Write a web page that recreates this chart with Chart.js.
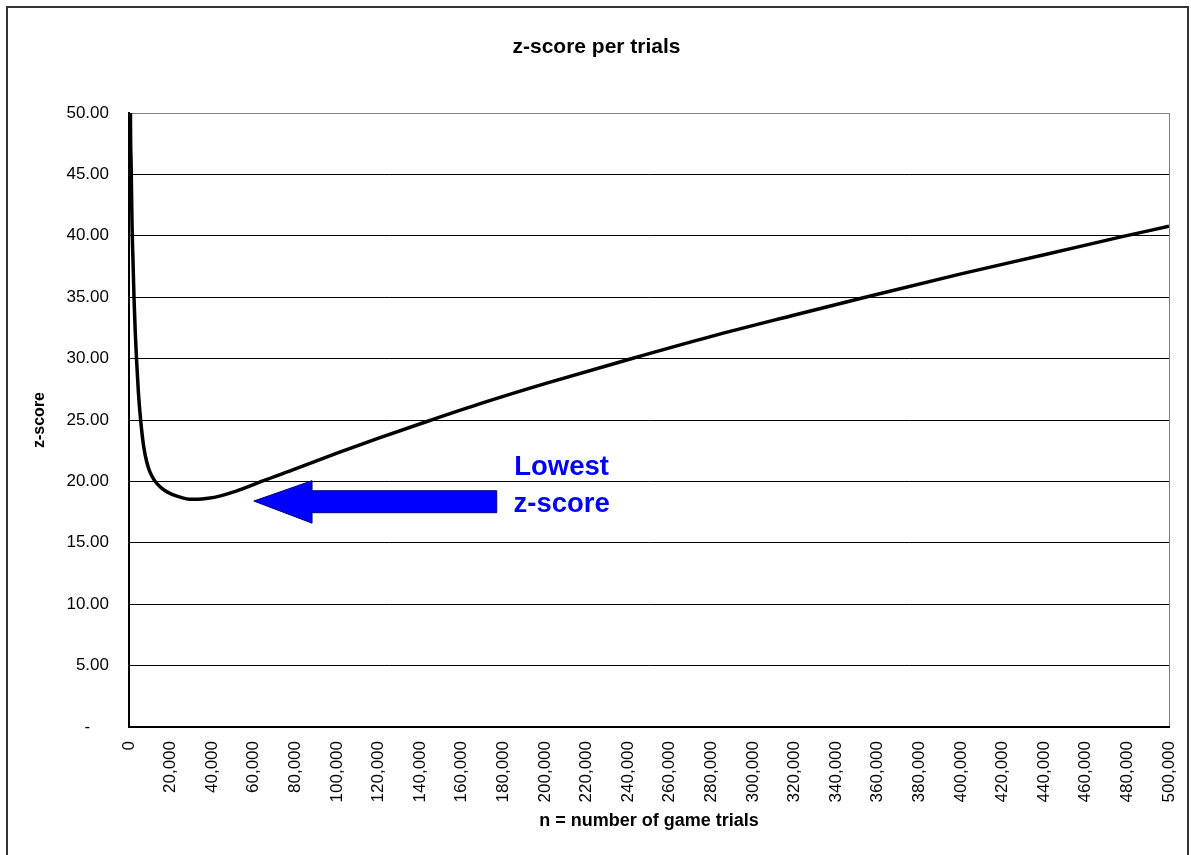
<!DOCTYPE html>
<html>
<head>
<meta charset="utf-8">
<title>z-score per trials</title>
<script src="https://cdn.jsdelivr.net/npm/chart.js@4/dist/chart.umd.min.js"></script>
<style>
  html, body { margin: 0; padding: 0; background: #fff; }
  canvas { display: block; }
</style>
</head>
<body>
<canvas id="chart" width="1191" height="855"></canvas>
<script>
// -------------------------
// Data
// -------------------------
const trialsN = [600, 700, 1000, 1450, 2000, 2400, 3000, 3600, 4500, 5600, 7000, 8500, 10000, 12000, 14000,
  17000, 21000, 25000, 29000, 33000, 38000, 44000, 50000, 58000, 64000, 80000, 100000, 120000, 145000,
  170000, 200000, 241000, 280000, 320000, 353000, 400000, 440000, 478000, 500000];
const zScore = [58, 50, 46, 41, 37.5, 35, 32.2, 30, 27.3, 25, 22.9, 21.6, 20.8, 20.15, 19.72,
  19.28, 18.92, 18.7, 18.55, 18.54, 18.62, 18.82, 19.12, 19.62, 20.02, 21.02, 22.3, 23.52, 24.98,
  26.39, 27.96, 29.97, 31.81, 33.55, 34.96, 36.9, 38.46, 39.95, 40.78];

const yTicks = [0, 5, 10, 15, 20, 25, 30, 35, 40, 45, 50];
const xMax = 500000;
const xStep = 20000;

// annotation: arrow + label, in data units
const arrowTip = { n: 60000, z: 18.4 };
const arrowHeadBack = 88000;
const arrowHeadZ = [20.06, 16.6];
const arrowShaftZ = [19.24, 17.45];
const arrowTail = 176800;
const noteLines = ["Lowest", "z-score"];
const noteN = 208000;
const noteZ = [20.5, 17.53];

const FONT = "'Liberation Sans', Arial, sans-serif";

// -------------------------
// Plugins
// -------------------------
const framePlugin = {
  id: 'frame',
  beforeDraw(chart) {
    const { ctx, chartArea: a } = chart;
    ctx.save();
    ctx.fillStyle = '#fff';
    ctx.fillRect(0, 0, chart.width, chart.height);
    ctx.strokeStyle = '#333';
    ctx.lineWidth = 2;
    ctx.strokeRect(7, 7, 1181, 860);
    ctx.strokeStyle = '#808080';
    ctx.lineWidth = 1;
    ctx.strokeRect(a.left + 0.5, a.top + 0.5, a.right - a.left, a.bottom - a.top);
    ctx.restore();
  }
};

const arrowPlugin = {
  id: 'lowestArrow',
  afterDatasetsDraw(chart) {
    const { ctx, scales: { x, y } } = chart;
    const px = v => x.getPixelForValue(v);
    const py = v => y.getPixelForValue(v);
    ctx.save();
    ctx.beginPath();
    ctx.moveTo(px(arrowTip.n), py(arrowTip.z));
    ctx.lineTo(px(arrowHeadBack), py(arrowHeadZ[0]));
    ctx.lineTo(px(arrowHeadBack), py(arrowShaftZ[0]));
    ctx.lineTo(px(arrowTail), py(arrowShaftZ[0]));
    ctx.lineTo(px(arrowTail), py(arrowShaftZ[1]));
    ctx.lineTo(px(arrowHeadBack), py(arrowShaftZ[1]));
    ctx.lineTo(px(arrowHeadBack), py(arrowHeadZ[1]));
    ctx.closePath();
    ctx.fillStyle = '#0000ff';
    ctx.fill();
    ctx.strokeStyle = '#000080';
    ctx.lineWidth = 1;
    ctx.stroke();

    ctx.fillStyle = '#0000ff';
    ctx.font = 'bold 27.5px ' + FONT;
    ctx.textAlign = 'center';
    ctx.textBaseline = 'alphabetic';
    noteLines.forEach((t, i) => ctx.fillText(t, px(noteN), py(noteZ[i])));
    ctx.restore();
  }
};

// -------------------------
// Chart
// -------------------------
const ctx = document.getElementById('chart').getContext('2d');
new Chart(ctx, {
  type: 'line',
  data: {
    datasets: [{
      label: 'z-score',
      data: trialsN.map((n, i) => ({ x: n, y: zScore[i] })),
      borderColor: '#000',
      borderWidth: 3.5,
      pointRadius: 0,
      fill: false,
      cubicInterpolationMode: 'monotone',
      clip: 0
    }]
  },
  options: {
    responsive: false,
    animation: false,
    devicePixelRatio: 1,
    layout: { padding: { left: 24, right: 22, top: 0, bottom: 0 } },
    plugins: {
      legend: { display: false },
      tooltip: { enabled: false },
      title: {
        display: true,
        text: 'z-score per trials',
        color: '#000',
        font: { family: FONT, size: 21, weight: 'bold', lineHeight: 1.2 },
        padding: { top: 35, bottom: 52.8 }
      }
    },
    scales: {
      x: {
        type: 'linear',
        min: 0,
        max: xMax,
        afterFit: s => { s.height = 128; s.paddingLeft = 0; s.paddingRight = 0; },
        grid: { display: true, drawOnChartArea: false, drawTicks: false },
        border: { color: '#000', width: 2 },
        ticks: {
          stepSize: xStep,
          autoSkip: false,
          minRotation: 90,
          maxRotation: 90,
          padding: 14,
          color: '#000',
          font: { family: FONT, size: 17 },
          callback: v => v.toLocaleString('en-US')
        },
        title: {
          display: true,
          text: 'n = number of game trials',
          color: '#000',
          font: { family: FONT, size: 18, weight: 'bold', lineHeight: 1.2 },
          padding: { top: 0, bottom: 23.2 }
        }
      },
      y: {
        min: 0,
        max: 50,
        afterFit: s => { s.width = 105; },
        afterBuildTicks: s => { s.ticks = yTicks.map(v => ({ value: v })); },
        grid: {
          drawTicks: false,
          color: c => (c.tick && c.tick.value === 50) ? '#808080' : '#000',
          lineWidth: 1
        },
        border: { color: '#000', width: 2 },
        ticks: {
          padding: 20,
          color: '#000',
          font: { family: FONT, size: 17 },
          callback: v => v === 0 ? '-    ' : v.toFixed(2)
        },
        title: {
          display: true,
          text: 'z-score',
          color: '#000',
          font: { family: FONT, size: 16, weight: 'bold', lineHeight: 1.2 },
          padding: { top: 6.4, bottom: 0 }
        }
      }
    }
  },
  plugins: [framePlugin, arrowPlugin]
});
</script>
</body>
</html>
